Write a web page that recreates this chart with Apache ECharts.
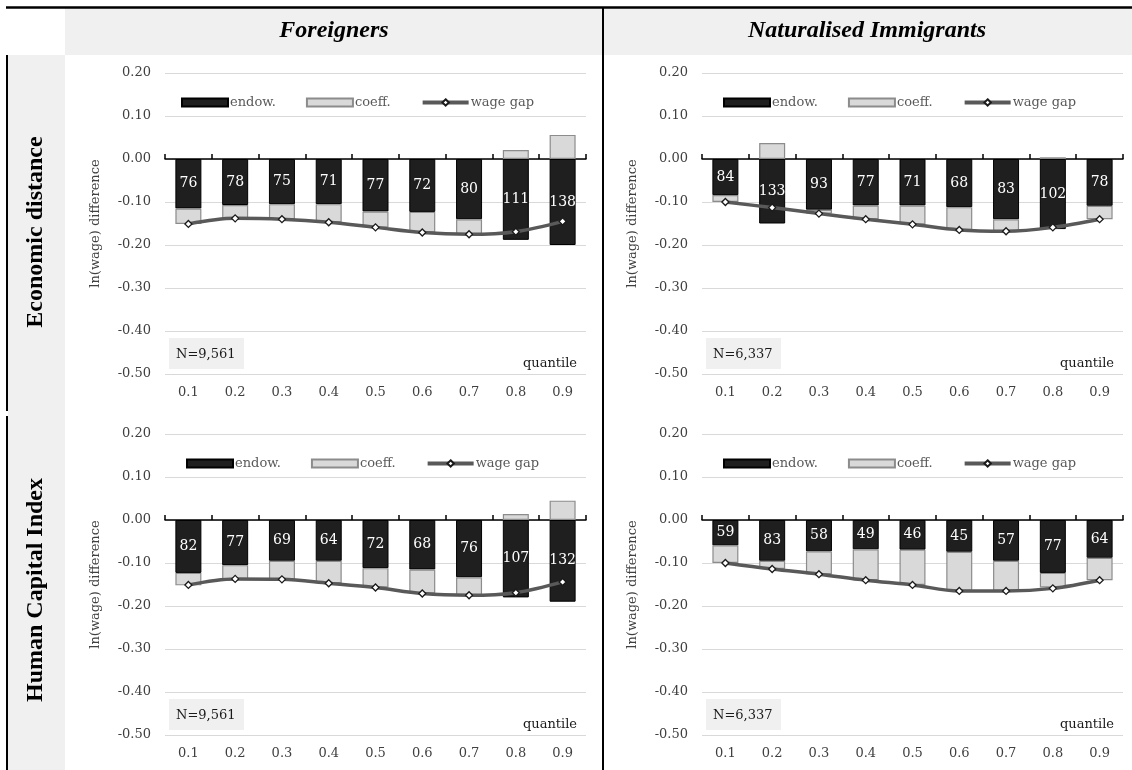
<!DOCTYPE html>
<html>
<head>
<meta charset="utf-8">
<script src="https://cdn.jsdelivr.net/npm/echarts@6/dist/echarts.min.js"></script>
<style>
  html, body { margin: 0; padding: 0; background: #fff; }
  #chart { width: 1132px; height: 770px; }
</style>
</head>
<body>
<div id="chart"></div>
<script>
// ---------- data ----------
const quantiles = ['0.1', '0.2', '0.3', '0.4', '0.5', '0.6', '0.7', '0.8', '0.9'];
const colTitles = ['Foreigners', 'Naturalised Immigrants'];
const rowTitles = ['Economic distance', 'Human Capital Index'];
const sampleSizes = ['N=9,561', 'N=6,337'];
const yTicks = [-0.5, 0.2, 0.1]; // min, max, interval

// Foreigners – Economic distance
const fEconEndow = [-0.115, -0.107, -0.105, -0.105, -0.122, -0.123, -0.140, -0.188, -0.200];
const fEconCoeff = [-0.036, -0.031, -0.035, -0.042, -0.037, -0.048, -0.035, 0.021, 0.056];
const fEconGap   = [-0.151, -0.138, -0.140, -0.147, -0.159, -0.171, -0.175, -0.169, -0.145];
const fEconShare = [76, 78, 75, 71, 77, 72, 80, 111, 138];

// Naturalised Immigrants – Economic distance
const nEconEndow = [-0.084, -0.150, -0.118, -0.108, -0.108, -0.112, -0.140, -0.163, -0.109];
const nEconCoeff = [-0.016, 0.037, -0.009, -0.032, -0.044, -0.053, -0.028, 0.004, -0.031];
const nEconGap   = [-0.100, -0.113, -0.127, -0.140, -0.152, -0.165, -0.168, -0.159, -0.140];
const nEconShare = [84, 133, 93, 77, 71, 68, 83, 102, 78];

// Foreigners – Human Capital Index
const fHciEndow = [-0.123, -0.105, -0.095, -0.095, -0.112, -0.115, -0.133, -0.180, -0.190];
const fHciCoeff = [-0.029, -0.033, -0.043, -0.052, -0.045, -0.056, -0.042, 0.014, 0.045];
const fHciGap   = [-0.151, -0.137, -0.138, -0.147, -0.157, -0.171, -0.175, -0.169, -0.144];
const fHciShare = [82, 77, 69, 64, 72, 68, 76, 107, 132];

// Naturalised Immigrants – Human Capital Index
const nHciEndow = [-0.059, -0.095, -0.073, -0.068, -0.069, -0.074, -0.095, -0.123, -0.088];
const nHciCoeff = [-0.041, -0.019, -0.053, -0.072, -0.082, -0.091, -0.070, -0.034, -0.052];
const nHciGap   = [-0.100, -0.114, -0.126, -0.140, -0.151, -0.165, -0.165, -0.159, -0.140];
const nHciShare = [59, 83, 58, 49, 46, 45, 57, 77, 64];

const panels = [
  { endow: fEconEndow, coeff: fEconCoeff, gap: fEconGap, share: fEconShare, n: sampleSizes[0] },
  { endow: nEconEndow, coeff: nEconCoeff, gap: nEconGap, share: nEconShare, n: sampleSizes[1] },
  { endow: fHciEndow,  coeff: fHciCoeff,  gap: fHciGap,  share: fHciShare,  n: sampleSizes[0] },
  { endow: nHciEndow,  coeff: nHciCoeff,  gap: nHciGap,  share: nHciShare,  n: sampleSizes[1] }
];

// ---------- layout ----------
const W = 1132, H = 770;
const SERIF = '"DejaVu Serif", serif';
const TIMES = '"Liberation Serif", "Times New Roman", serif';
const gridLefts = [165, 702];
const gridTops = [73, 434];
const gridW = 421, gridH = 301;
const legendLefts = [[176, 718], [181, 718]];

const grids = [], xAxes = [], yAxes = [], series = [], legends = [], graphics = [];

// frame / backgrounds
graphics.push(
  { type: 'rect', shape: { x: 65, y: 8, width: W - 65, height: 47 }, style: { fill: '#f0f0f0' }, z: -10 },
  { type: 'rect', shape: { x: 8, y: 55, width: 57, height: H - 55 }, style: { fill: '#f0f0f0' }, z: -10 },
  { type: 'line', shape: { x1: 6, y1: 7.5, x2: W, y2: 7.5 }, style: { stroke: '#000', lineWidth: 2.5 } },
  { type: 'line', shape: { x1: 7, y1: 55, x2: 7, y2: 411 }, style: { stroke: '#000', lineWidth: 2 } },
  { type: 'line', shape: { x1: 7, y1: 416, x2: 7, y2: H }, style: { stroke: '#000', lineWidth: 2 } },
  { type: 'line', shape: { x1: 603, y1: 7, x2: 603, y2: H }, style: { stroke: '#000', lineWidth: 2 } }
);
const colCenters = [334, 867];
colTitles.forEach((t, i) => graphics.push({
  type: 'text', x: colCenters[i], y: 31,
  style: { text: t, font: 'italic bold 24px ' + TIMES, fill: '#000', align: 'center', verticalAlign: 'middle' }
}));
const rowCenters = [232, 590];
rowTitles.forEach((t, i) => graphics.push({
  type: 'text', x: 36, y: rowCenters[i], rotation: Math.PI / 2,
  style: { text: t, font: 'bold 24px ' + TIMES, fill: '#000', align: 'center', verticalAlign: 'middle' }
}));

panels.forEach((p, i) => {
  const r = Math.floor(i / 2), c = i % 2;
  const left = gridLefts[c], top = gridTops[r];
  grids.push({ left: left, top: top, width: gridW, height: gridH, containLabel: false });

  // axis line at zero with ticks
  xAxes.push({
    type: 'category', gridIndex: i, data: quantiles, position: 'bottom',
    axisLine: { onZero: true, lineStyle: { color: '#000', width: 1.5 } },
    axisTick: { show: true, inside: true, length: 5, lineStyle: { color: '#000', width: 1.5 } },
    axisLabel: { show: false }, splitLine: { show: false }
  });
  // labels along bottom
  xAxes.push({
    type: 'category', gridIndex: i, data: quantiles, position: 'bottom',
    axisLine: { show: false, onZero: false }, axisTick: { show: false },
    axisLabel: { show: true, color: '#404040', fontFamily: SERIF, fontSize: 13, margin: 12 },
    splitLine: { show: false }
  });
  yAxes.push({
    type: 'value', gridIndex: i, min: yTicks[0], max: yTicks[1], interval: yTicks[2],
    axisLine: { show: false }, axisTick: { show: false },
    axisLabel: { color: '#404040', fontFamily: SERIF, fontSize: 13, margin: 14, formatter: v => v.toFixed(2) },
    splitLine: { lineStyle: { color: '#d9d9d9', width: 1 } },
    name: 'ln(wage) difference', nameLocation: 'middle', nameGap: 63, nameRotate: 90,
    nameTextStyle: { color: '#404040', fontFamily: SERIF, fontSize: 13 }
  });

  const xi = i * 2;
  series.push({
    name: 'endow.', type: 'bar', xAxisIndex: xi, yAxisIndex: i, stack: 'p' + i,
    data: p.endow, barWidth: 26,
    itemStyle: { color: '#1f1f1f', borderColor: '#000', borderWidth: 1 },
    label: {
      show: true, position: 'inside', color: '#fff', fontFamily: SERIF, fontSize: 14,
      formatter: (d) => String(p.share[d.dataIndex])
    }
  });
  series.push({
    name: 'coeff.', type: 'bar', xAxisIndex: xi, yAxisIndex: i, stack: 'p' + i,
    data: p.coeff, barWidth: 26,
    itemStyle: { color: '#d9d9d9', borderColor: '#8c8c8c', borderWidth: 1.2 }
  });
  series.push({
    name: 'wage gap', type: 'line', xAxisIndex: xi, yAxisIndex: i,
    data: p.gap, smooth: 0.35, z: 5,
    lineStyle: { color: '#595959', width: 3.5 },
    symbol: 'diamond', symbolSize: 7, showSymbol: true,
    itemStyle: { color: '#fff', borderColor: '#1a1a1a', borderWidth: 1.3 }
  });

  legends.push({
    data: [
      { name: 'endow.', icon: 'rect' },
      { name: 'coeff.', icon: 'rect' },
      { name: 'wage gap', lineStyle: { width: 4, color: '#595959' } }
    ],
    left: legendLefts[r][c], top: top + 18,
    itemWidth: 46, itemHeight: 8, itemGap: 30, selectedMode: false,
    textStyle: { color: '#595959', fontFamily: SERIF, fontSize: 13, padding: [0, 0, 0, -3] }
  });

  // N box and 'quantile' text
  graphics.push(
    { type: 'rect', shape: { x: left + 4, y: top + 265, width: 75, height: 31 }, style: { fill: '#f0f0f0' }, z: -5 },
    { type: 'text', x: left + 11, y: top + 282,
      style: { text: p.n, font: '13px ' + SERIF, fill: '#1a1a1a', verticalAlign: 'middle' } },
    { type: 'text', x: left + gridW - 9, y: top + 291,
      style: { text: 'quantile', font: '13px ' + SERIF, fill: '#1a1a1a', align: 'right', verticalAlign: 'middle' } }
  );
});

const chart = echarts.init(document.getElementById('chart'), null, { renderer: 'canvas', width: W, height: H });
chart.setOption({
  backgroundColor: '#fff',
  animation: false,
  grid: grids, xAxis: xAxes, yAxis: yAxes, series: series, legend: legends,
  graphic: graphics
});
</script>
</body>
</html>
